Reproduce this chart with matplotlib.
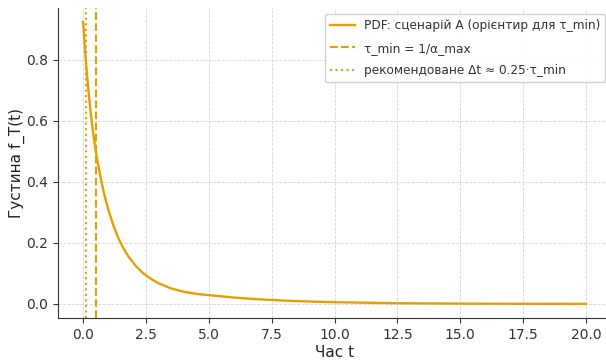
import matplotlib
matplotlib.use("Agg")
import matplotlib.pyplot as plt
import numpy as np

# density values
t_vals = [0.0, 0.1, 0.2, 0.3, 0.4, 0.5, 0.6, 0.7, 0.85, 1.0, 1.2, 1.4, 1.6, 1.8,
          2.1, 2.4, 2.7, 3.0, 3.5, 4.0, 4.5, 5.0, 6.0, 7.0, 8.0, 9.0, 10.0,
          12.5, 15.0, 17.5, 20.0]
pdf_vals = [0.924, 0.805, 0.708, 0.627, 0.560, 0.503, 0.455, 0.412, 0.356, 0.310,
            0.258, 0.216, 0.183, 0.156, 0.124, 0.100, 0.082, 0.068, 0.051, 0.040,
            0.033, 0.029, 0.021, 0.0152, 0.011, 0.008, 0.0058,
            0.0025, 0.0011, 0.0005, 0.0002]
tau_min = 0.5
dt_rec = 0.25 * tau_min

orange = "#E69F00"

fig = plt.figure(figsize=(6.06, 3.63), dpi=100)
ax = fig.add_axes([58 / 606, 45 / 363, 553 / 606, 310 / 363])

ax.plot(t_vals, pdf_vals, color=orange, lw=1.7, label="PDF: сценарій A (орієнтир для τ_min)")
ax.axvline(tau_min, color=orange, ls="--", lw=1.5, label="τ_min = 1/α_max")
ax.axvline(dt_rec, color=orange, ls=":", lw=1.5, label="рекомендоване Δt ≈ 0.25·τ_min")

ax.set_xticks(np.arange(0, 20.1, 2.5))
ax.set_yticks([0.0, 0.2, 0.4, 0.6, 0.8])
ax.set_xlabel("Час t", fontsize=11, color="#222222", labelpad=2.5)
ax.set_ylabel("Густина f_T(t)", fontsize=11, color="#222222", labelpad=1)
ax.tick_params(labelsize=10, colors="#333333")
ax.grid(True, ls="--", lw=0.6, color="#d4d4d4")
ax.set_axisbelow(True)
for s in ["top", "right"]:
    ax.spines[s].set_visible(False)
for s in ["left", "bottom"]:
    ax.spines[s].set_color("#333333")

leg = ax.legend(loc="upper right", fontsize=8.7, framealpha=0.9,
                labelspacing=0.8, handlelength=2.1, handletextpad=0.7)
for txt in leg.get_texts():
    txt.set_color("#333333")

fig.savefig("out.png", dpi=100)
